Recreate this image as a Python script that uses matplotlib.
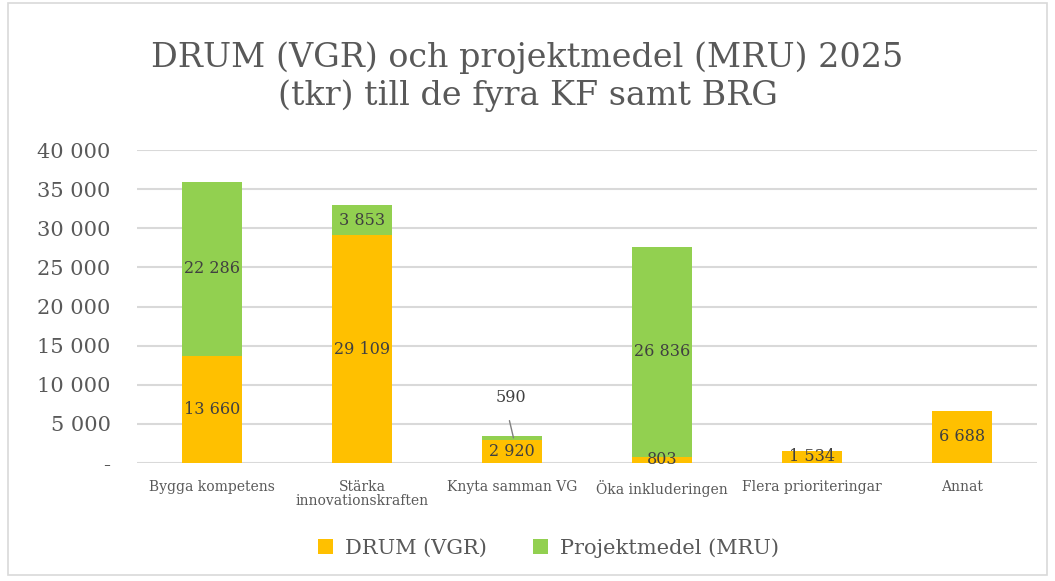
import numpy as np
import matplotlib.pyplot as plt
from matplotlib.ticker import FuncFormatter
from matplotlib.patches import Rectangle

# data (tkr)
categories = ["Bygga kompetens", "Stärka\ninnovationskraften", "Knyta samman VG",
              "Öka inkluderingen", "Flera prioriteringar", "Annat"]
drum_vgr = [13660, 29109, 2920, 803, 1534, 6688]
projekt_mru = [22286, 3853, 590, 26836, 0, 0]

orange = "#FFC000"
green = "#92D050"
txt = "#595959"

plt.rcParams['font.family'] = ['DejaVu Serif']

fig = plt.figure(figsize=(10.55, 5.81), dpi=100)
ax = fig.add_axes([137/1055, 1 - 463/581, 900/1055, 313/581])

x = np.arange(len(categories))
w = 0.4
ax.bar(x, drum_vgr, w, color=orange, label="DRUM (VGR)", zorder=3)
ax.bar(x, projekt_mru, w, bottom=drum_vgr, color=green, label="Projektmedel (MRU)", zorder=3)

def fmt(v):
    return f"{int(v):,}".replace(",", " ")

# data labels, centred in each segment
for i in range(len(categories)):
    if drum_vgr[i] > 0:
        ax.text(x[i], drum_vgr[i] / 2, fmt(drum_vgr[i]), ha="center", va="center",
                fontsize=11.5, color="#404040", zorder=4)
    if projekt_mru[i] > 0:
        if projekt_mru[i] < 1500:
            # small segment: label above with leader line
            top = drum_vgr[i] + projekt_mru[i]
            ax.annotate(fmt(projekt_mru[i]), xy=(x[i] + 0.01, top - projekt_mru[i] / 2),
                        xytext=(x[i] - 0.01, top + 4900), ha="center", va="center",
                        fontsize=11.5, color="#404040", zorder=4,
                        arrowprops=dict(arrowstyle="-", color="#808080", lw=1,
                                        shrinkA=9, shrinkB=0,
                                        relpos=(0.35, 0.0)))
        else:
            ax.text(x[i], drum_vgr[i] + projekt_mru[i] / 2, fmt(projekt_mru[i]),
                    ha="center", va="center", fontsize=11.5, color="#404040", zorder=4)

ax.set_xlim(-0.5, len(categories) - 0.5)
ax.set_ylim(0, 40000)
ax.set_yticks(np.arange(0, 40001, 5000))
ax.yaxis.set_major_formatter(FuncFormatter(lambda v, p: "-" if v == 0 else fmt(v)))
ax.set_xticks(x)
ax.set_xticklabels(categories, fontsize=10, color=txt, linespacing=1.05)
ax.tick_params(axis="y", labelsize=15, labelcolor=txt, length=0, pad=19)
ax.tick_params(axis="x", length=0, pad=12)
ax.grid(axis="y", color="#D9D9D9", lw=1.5, zorder=0)
for s in ax.spines.values():
    s.set_visible(False)

fig.text(0.5, 1 - 77/581, "DRUM (VGR) och projektmedel (MRU) 2025\n(tkr) till de fyra KF samt BRG",
         ha="center", va="center", fontsize=24, color=txt, linespacing=1.2)

leg = fig.legend(loc="center", bbox_to_anchor=(0.52, 1 - 548/581), ncol=2, frameon=False,
                 fontsize=15, handlelength=0.7, handleheight=0.7, columnspacing=2.2,
                 handletextpad=0.6)
for t in leg.get_texts():
    t.set_color(txt)

# light frame round the chart area
fig.patches.append(Rectangle((8/1055, 0.01), 1 - 16/1055, 0.985, transform=fig.transFigure,
                             fill=False, edgecolor="#D9D9D9", lw=1.2))

fig.savefig("out.png", dpi=100, facecolor="white")
